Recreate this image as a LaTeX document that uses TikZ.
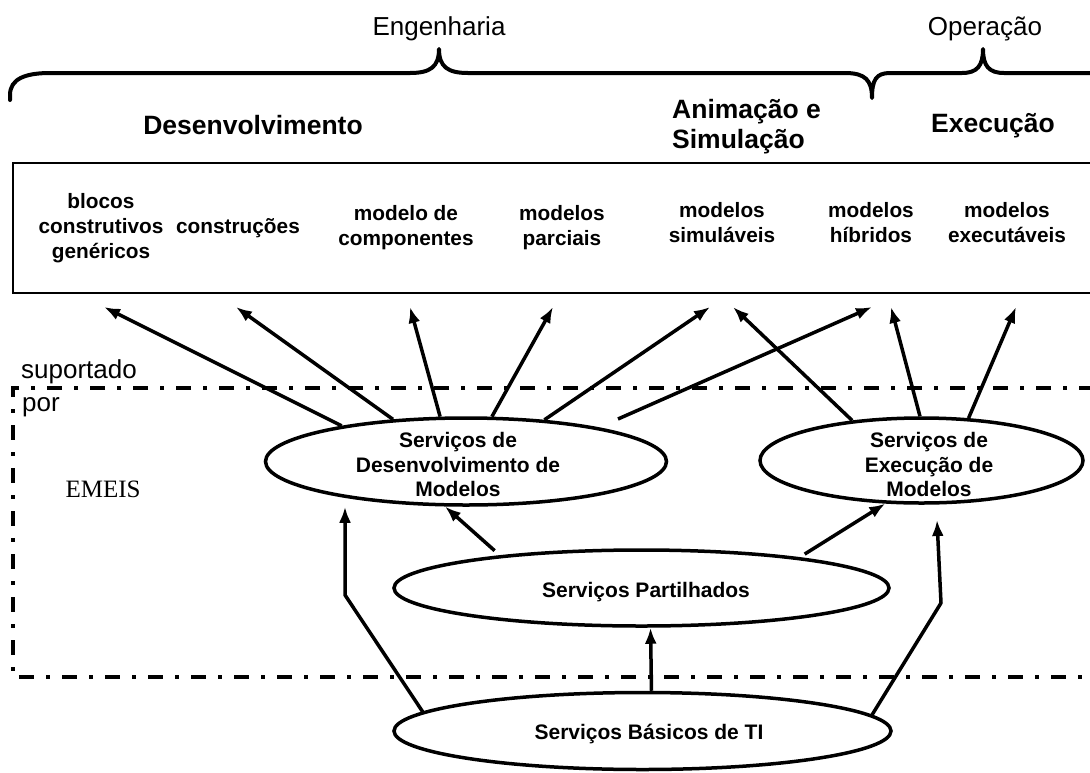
\documentclass[tikz,border=0pt]{standalone}
\usepackage{fontspec}
\setmainfont{Liberation Sans}
\newfontfamily\serifface{Liberation Serif}
\usetikzlibrary{shapes.geometric,arrows.meta}
\begin{document}
\begin{tikzpicture}[x=1pt,y=-1pt,
  hd/.style={font=\fontsize{26.5}{30}\selectfont\bfseries, inner sep=0pt},
  lbl/.style={font=\fontsize{26}{30}\selectfont, inner sep=0pt},
  item/.style={font=\fontsize{20.8}{25}\selectfont\bfseries, align=center, inner sep=0pt},
  svc/.style={font=\fontsize{21}{24.5}\selectfont\bfseries, align=center, inner sep=0pt},
  oval/.style={ellipse, draw, line width=3.5pt, inner sep=0pt},
  arr/.style={line width=3.5pt, -{Latex[length=16pt,width=12pt]}},
  frameline/.style={line width=3.5pt, dash pattern=on 15pt off 12pt on 4pt off 12pt},
  bracepath/.style={line width=4pt, line cap=round, line join=round},
  boxline/.style={line width=2.5pt}]
\useasboundingbox (0,0) rectangle (1090,772);

% top labels and braces
\node[lbl] (eng) at (439,29) {Engenharia};
\node[lbl] (ope) at (985,29) {Operação};
\draw[bracepath] (10,100) -- (10,95) .. controls (10,79) and (25,73) .. (50,73)
  -- (410,73) .. controls (430,73) and (439,67) .. (439,49)
  .. controls (439,67) and (448,73) .. (468,73)
  -- (845,73) .. controls (865,73) and (872,80) .. (872,98)
  .. controls (872,80) and (876,73) .. (890,73)
  -- (962,73) .. controls (977,73) and (983,66) .. (983,49)
  .. controls (983,66) and (989,73) .. (1004,73) -- (1094,73);

\node[hd] (desv) at (253,125) {Desenvolvimento};
\node[hd, align=left, anchor=west] (anim) at (672,127) {Animação e\\Simulação};
\node[hd] (exe) at (993,126) {Execução};

% box
\draw[boxline] (1094,163) -- (13,163) -- (13,293) -- (1094,293);
\node[item] (i1) at (101,228) {blocos\\construtivos\\genéricos};
\node[item] (i2) at (238,228) {construções};
\node[item] (i3) at (406,227.5) {modelo de\\componentes};
\node[item] (i4) at (562,227.5) {modelos\\parciais};
\node[item] (i5) at (722,223) {modelos\\simuláveis};
\node[item] (i6) at (871,223) {modelos\\híbridos};
\node[item] (i7) at (1007,223) {modelos\\executáveis};

% frame
\draw[frameline] (1094,388) -- (13,388) -- (13,677) -- (1094,677);
\node[lbl, anchor=west] (sup) at (21,372) {suportado};
\node[lbl, anchor=west] (por) at (22,407) {por};
\node[inner sep=0pt, font=\serifface\fontsize{25}{30}\selectfont] (emeis) at (103,489) {EMEIS};

% ellipses
\node[oval, minimum width=401pt, minimum height=87pt] (dev) at (466,461.5) {};
\node[svc] (devt) at (458,464.5) {Serviços de\\Desenvolvimento de\\Modelos};
\node[oval, minimum width=323pt, minimum height=85pt] (exec) at (921.5,460.5) {};
\node[svc] (exect) at (929,464.5) {Serviços de\\Execução de\\Modelos};
\node[oval, minimum width=495pt, minimum height=76pt] (shared) at (641.5,588) {};
\node[svc] (sharedt) at (646,592) {Serviços Partilhados};
\node[oval, minimum width=497pt, minimum height=77pt] (bas) at (642.5,731) {};
\node[svc] (bast) at (649,734) {Serviços Básicos de TI};

% arrow targets
\coordinate (t1) at (104,307);
\coordinate (t2) at (236,307);
\coordinate (t3) at (410,307);
\coordinate (t4) at (553,307);
\coordinate (t5) at (710,307);
\coordinate (t6) at (872,307);
\coordinate (t7) at (733,307);
\coordinate (t8) at (891,307);
\coordinate (t9) at (1016,307);
\coordinate (f6) at (618,419);

\draw[arr] (dev.164) -- (t1);
\draw[arr] (dev.150) -- (t2);
\draw[arr] (dev.120) -- (t3);
\draw[arr] (dev.60) -- (t4);
\draw[arr] (dev.28) -- (t5);
\draw[arr] (f6) -- (t6);
\draw[arr] (exec.150) -- (t7);
\draw[arr] (exec.92) -- (t8);
\draw[arr] (exec.42) -- (t9);

\draw[arr, shorten <=7pt] (shared.167) -- (dev.-115);
\draw[arr, shorten <=6pt] (shared.11) -- (exec.-130);
\draw[arr] ([xshift=9pt]bas.north) -- ([xshift=9pt]shared.south);

\coordinate (lb) at (345,595);
\coordinate (rb) at (941,603);
\coordinate (rt) at (937,520);
\draw[arr, line join=round] (bas.175) -- (lb) -- (lb |- dev.south);
\draw[arr, line join=round] (bas.4) -- (rb) -- (rt);
\end{tikzpicture}
\end{document}
